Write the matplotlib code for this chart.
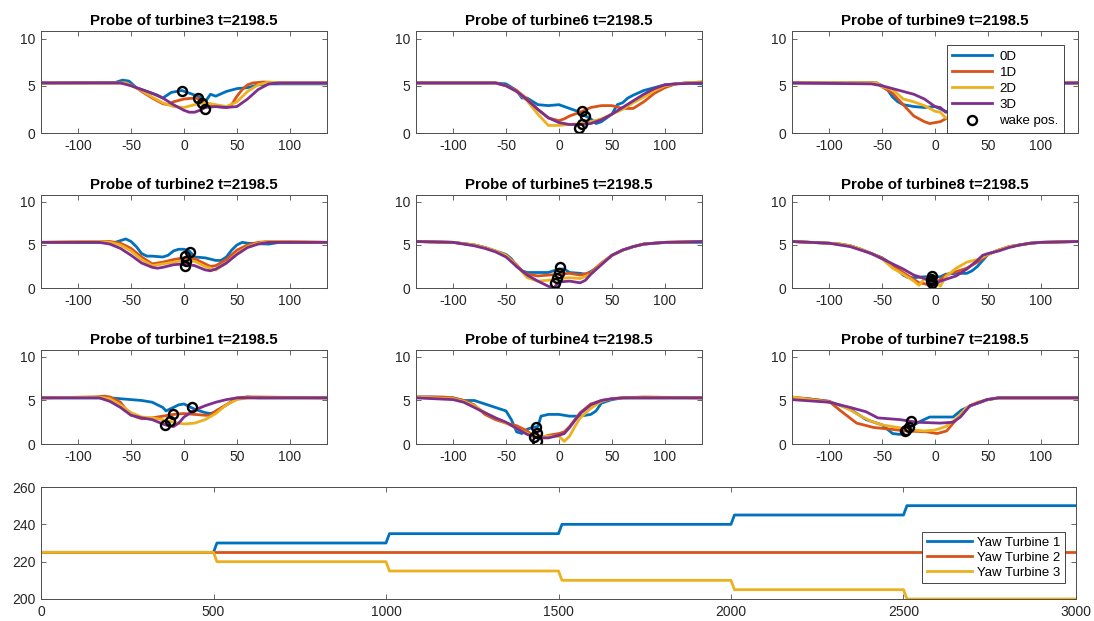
import numpy as np
import matplotlib.pyplot as plt

plt.rcParams['font.family'] = ['Liberation Sans', 'DejaVu Sans']
plt.rcParams['axes.unicode_minus'] = False

boje = ['#0072BD', '#D95319', '#EDB120', '#7E2F8E']
nazivi = ['0D', '1D', '2D', '3D']
vrijeme = 2198.5

# profil brzine (x, u) za svaku turbinu i udaljenost probe
probe3 = {
    '0D': [(-135, 5.3), (-65, 5.35), (-58, 5.6), (-52, 5.5), (-45, 4.8), (-35, 4.4), (-25, 4.0), (-20, 3.7), (-12, 4.3), (-2, 4.5), (8, 4.1), (15, 3.8), (20, 3.3), (25, 4.1), (30, 3.9), (40, 4.4), (50, 4.7), (60, 4.8), (70, 5.1), (80, 5.2), (135, 5.2)],
    '1D': [(-135, 5.3), (-55, 5.3), (-45, 4.8), (-40, 4.4), (-30, 3.7), (-20, 3.1), (-15, 3.0), (-10, 3.3), (0, 3.6), (10, 3.7), (15, 3.6), (20, 3.2), (30, 2.8), (40, 2.7), (45, 3.0), (50, 3.9), (55, 4.6), (60, 5.1), (65, 5.3), (75, 5.4), (90, 5.3), (135, 5.3)],
    '2D': [(-135, 5.3), (-55, 5.3), (-40, 4.5), (-30, 3.8), (-20, 3.2), (-10, 2.8), (0, 2.7), (10, 3.0), (20, 3.2), (30, 3.0), (40, 2.8), (50, 3.3), (60, 4.4), (70, 5.1), (80, 5.4), (90, 5.3), (135, 5.3)],
    '3D': [(-135, 5.3), (-60, 5.3), (-50, 5.0), (-40, 4.6), (-30, 4.2), (-20, 3.7), (-10, 3.0), (0, 2.4), (5, 2.2), (10, 2.2), (15, 2.4), (20, 2.7), (30, 2.8), (40, 2.7), (50, 2.8), (60, 3.6), (70, 4.6), (80, 5.2), (90, 5.3), (135, 5.3)],
}
wake3 = [(-2, 4.5), (13, 3.7), (17, 3.2), (20, 2.5)]

probe6 = {
    '0D': [(-135, 5.3), (-60, 5.3), (-50, 5.2), (-40, 4.5), (-35, 3.7), (-30, 3.7), (-20, 3.0), (-10, 2.9), (0, 3.0), (10, 2.6), (20, 2.2), (25, 1.8), (30, 1.5), (35, 1.0), (40, 1.2), (50, 2.0), (55, 3.0), (60, 3.2), (65, 3.7), (70, 4.0), (80, 4.5), (90, 4.8), (100, 5.1), (110, 5.2), (120, 5.3), (135, 5.2)],
    '1D': [(-135, 5.3), (-60, 5.3), (-50, 5.0), (-40, 4.5), (-30, 3.6), (-20, 2.5), (-10, 1.6), (0, 1.3), (5, 1.5), (10, 1.8), (20, 2.2), (30, 2.7), (40, 2.9), (50, 2.9), (60, 2.6), (70, 2.6), (80, 3.3), (90, 4.2), (100, 4.8), (110, 5.2), (120, 5.3), (135, 5.4)],
    '2D': [(-135, 5.3), (-60, 5.3), (-50, 5.0), (-40, 4.4), (-30, 3.4), (-20, 2.0), (-10, 0.8), (0, 0.8), (10, 0.9), (20, 1.0), (30, 1.2), (40, 1.5), (50, 2.0), (60, 2.5), (70, 3.2), (80, 3.8), (90, 4.5), (100, 5.0), (110, 5.2), (135, 5.4)],
    '3D': [(-135, 5.3), (-60, 5.3), (-50, 5.0), (-40, 4.4), (-30, 3.5), (-20, 2.5), (-10, 1.6), (0, 1.1), (10, 0.9), (20, 0.9), (30, 1.0), (40, 1.4), (50, 2.0), (60, 2.7), (70, 3.4), (80, 4.1), (90, 4.7), (100, 5.1), (110, 5.2), (135, 5.3)],
}
wake6 = [(22, 2.3), (25, 1.8), (19, 0.5), (22, 1.0)]

probe9 = {
    '0D': [(-135, 5.3), (-55, 5.3), (-50, 5.0), (-45, 4.6), (-40, 3.8), (-35, 3.3), (-30, 3.0), (-20, 2.8), (-10, 2.7), (0, 2.8), (10, 2.3), (20, 2.0), (30, 2.5), (40, 3.5), (50, 4.3), (60, 4.9), (70, 5.2), (80, 5.3), (135, 5.3)],
    '1D': [(-135, 5.3), (-55, 5.3), (-50, 4.9), (-40, 4.2), (-30, 3.0), (-20, 1.8), (-10, 1.2), (-5, 1.0), (0, 1.1), (5, 1.2), (10, 1.5), (20, 2.0), (30, 2.8), (40, 3.6), (50, 4.4), (60, 5.0), (70, 5.3), (135, 5.3)],
    '2D': [(-135, 5.3), (-55, 5.3), (-50, 4.9), (-40, 4.6), (-30, 3.6), (-20, 3.3), (-10, 2.9), (0, 2.3), (5, 2.2), (10, 1.6), (20, 1.8), (30, 2.6), (40, 3.5), (50, 4.3), (60, 4.9), (70, 5.3), (135, 5.3)],
    '3D': [(-135, 5.3), (-60, 5.2), (-50, 5.0), (-40, 4.7), (-30, 4.4), (-20, 4.1), (-10, 3.6), (0, 2.8), (5, 2.7), (10, 2.2), (20, 2.2), (30, 2.8), (40, 3.6), (50, 4.3), (60, 4.9), (70, 5.2), (135, 5.3)],
}
wake9 = [(22, 2.0), (20, 1.4), (22, 1.7), (24, 2.2)]

probe2 = {
    '0D': [(-135, 5.3), (-65, 5.3), (-60, 5.5), (-55, 5.7), (-50, 5.4), (-45, 4.8), (-40, 4.0), (-35, 3.7), (-30, 3.7), (-20, 3.6), (-15, 3.8), (-10, 4.3), (-5, 4.5), (0, 4.5), (5, 4.3), (10, 3.6), (20, 3.5), (30, 3.2), (35, 3.2), (40, 3.6), (45, 4.4), (50, 5.0), (55, 5.3), (60, 5.2), (80, 5.1), (90, 5.3), (135, 5.3)],
    '1D': [(-135, 5.3), (-85, 5.4), (-70, 5.4), (-60, 5.2), (-50, 4.6), (-40, 3.6), (-30, 2.8), (-20, 3.0), (-10, 3.3), (0, 3.5), (10, 3.4), (20, 2.8), (25, 2.5), (30, 2.6), (40, 3.3), (50, 4.4), (60, 5.0), (70, 5.3), (80, 5.4), (95, 5.4), (135, 5.3)],
    '2D': [(-135, 5.3), (-80, 5.4), (-70, 5.3), (-60, 5.0), (-50, 4.3), (-40, 3.3), (-30, 2.6), (-20, 2.8), (-10, 3.0), (0, 3.2), (10, 3.1), (20, 2.5), (30, 2.1), (40, 2.9), (50, 4.0), (60, 4.8), (70, 5.2), (80, 5.4), (135, 5.3)],
    '3D': [(-135, 5.3), (-80, 5.3), (-70, 5.1), (-60, 4.6), (-50, 3.8), (-40, 2.9), (-30, 2.4), (-25, 2.3), (-20, 2.4), (-10, 2.7), (0, 2.8), (10, 2.6), (20, 2.1), (25, 2.0), (30, 2.2), (40, 2.9), (50, 3.9), (60, 4.7), (70, 5.1), (80, 5.3), (135, 5.3)],
}
wake2 = [(6, 4.2), (1, 3.7), (2, 3.1), (1, 2.6)]

probe5 = {
    '0D': [(-135, 5.4), (-100, 5.3), (-80, 5.0), (-70, 4.7), (-60, 4.3), (-50, 3.9), (-45, 3.4), (-40, 2.5), (-35, 2.0), (-30, 1.8), (-20, 1.8), (-10, 1.8), (-5, 2.0), (0, 2.2), (5, 2.2), (10, 1.8), (20, 1.7), (25, 1.6), (30, 1.9), (35, 2.3), (40, 2.8), (50, 3.8), (60, 4.4), (70, 4.8), (80, 5.1), (100, 5.3), (135, 5.3)],
    '1D': [(-135, 5.4), (-100, 5.3), (-80, 5.0), (-70, 4.7), (-60, 4.3), (-50, 3.8), (-40, 2.7), (-35, 2.0), (-30, 1.6), (-20, 1.4), (-10, 1.5), (0, 1.6), (10, 1.7), (20, 1.5), (30, 1.8), (40, 2.9), (50, 3.8), (60, 4.4), (70, 4.8), (80, 5.1), (100, 5.3), (135, 5.4)],
    '2D': [(-135, 5.4), (-100, 5.3), (-80, 5.0), (-70, 4.7), (-60, 4.3), (-50, 3.8), (-40, 2.6), (-30, 1.2), (-20, 0.8), (-10, 0.9), (0, 1.1), (10, 1.2), (20, 1.1), (30, 1.6), (40, 2.8), (50, 3.8), (60, 4.4), (70, 4.8), (80, 5.1), (100, 5.3), (135, 5.4)],
    '3D': [(-135, 5.4), (-100, 5.3), (-80, 4.9), (-70, 4.6), (-60, 4.2), (-50, 3.6), (-40, 2.5), (-30, 1.5), (-20, 0.8), (-10, 0.2), (-5, 0.0), (0, 0.7), (10, 0.8), (20, 0.6), (25, 0.9), (30, 1.6), (40, 2.7), (50, 3.8), (60, 4.4), (70, 4.8), (80, 5.1), (100, 5.3), (135, 5.4)],
}
wake5 = [(1, 2.4), (0, 1.8), (-2, 1.2), (-4, 0.6)]

probe8 = {
    '0D': [(-135, 5.4), (-100, 5.2), (-90, 5.1), (-80, 4.9), (-70, 4.5), (-60, 4.0), (-50, 3.5), (-40, 2.7), (-30, 1.5), (-25, 1.2), (-20, 1.2), (-10, 1.3), (0, 1.3), (5, 1.3), (10, 1.6), (20, 1.7), (30, 1.7), (35, 2.0), (40, 2.5), (50, 3.9), (60, 4.4), (70, 4.8), (80, 5.0), (90, 5.2), (100, 5.3), (135, 5.4)],
    '1D': [(-135, 5.4), (-100, 5.2), (-90, 5.1), (-80, 4.9), (-70, 4.5), (-60, 4.0), (-50, 3.5), (-40, 2.6), (-30, 1.8), (-20, 1.0), (-15, 0.6), (-10, 0.5), (-5, 0.3), (0, 0.5), (5, 1.0), (10, 1.5), (20, 1.9), (30, 2.3), (40, 3.0), (50, 3.9), (60, 4.4), (70, 4.8), (80, 5.0), (90, 5.2), (100, 5.3), (135, 5.4)],
    '2D': [(-135, 5.4), (-100, 5.2), (-90, 5.1), (-80, 4.9), (-70, 4.5), (-60, 4.0), (-50, 3.4), (-40, 2.3), (-30, 1.6), (-20, 0.8), (-15, 0.3), (-10, 1.1), (-5, 1.0), (0, 0.7), (5, 0.2), (10, 1.3), (20, 2.3), (30, 3.0), (40, 3.3), (50, 3.9), (60, 4.4), (70, 4.8), (80, 5.0), (90, 5.2), (100, 5.3), (135, 5.4)],
    '3D': [(-135, 5.4), (-100, 5.2), (-90, 5.0), (-80, 4.8), (-70, 4.4), (-60, 4.0), (-50, 3.4), (-40, 2.8), (-30, 2.2), (-20, 1.5), (-10, 1.1), (-5, 0.8), (0, 0.4), (5, 0.8), (10, 1.0), (20, 1.4), (30, 2.2), (40, 3.2), (45, 3.8), (50, 4.0), (60, 4.3), (70, 4.7), (80, 5.0), (90, 5.2), (100, 5.3), (135, 5.4)],
}
wake8 = [(-3, 1.4), (-4, 1.0), (-4, 0.8), (-3, 0.6)]

probe1 = {
    '0D': [(-135, 5.3), (-70, 5.3), (-60, 5.2), (-50, 5.1), (-40, 5.0), (-30, 4.8), (-25, 4.5), (-20, 4.2), (-17, 3.8), (-10, 4.2), (-5, 4.5), (0, 4.6), (5, 4.3), (10, 4.0), (15, 3.8), (20, 3.6), (25, 3.5), (30, 3.7), (40, 4.5), (50, 5.2), (60, 5.4), (70, 5.3), (135, 5.3)],
    '1D': [(-135, 5.3), (-85, 5.4), (-75, 5.5), (-70, 5.4), (-60, 4.8), (-55, 4.0), (-50, 3.4), (-45, 3.1), (-40, 2.9), (-30, 3.0), (-20, 3.2), (-10, 3.4), (0, 3.5), (10, 3.4), (20, 3.3), (25, 3.3), (30, 3.8), (40, 4.5), (50, 5.3), (60, 5.4), (70, 5.4), (135, 5.3)],
    '2D': [(-135, 5.3), (-80, 5.4), (-70, 5.2), (-60, 4.5), (-50, 3.6), (-40, 3.1), (-30, 3.0), (-20, 2.8), (-10, 2.5), (0, 2.3), (10, 2.4), (20, 2.8), (30, 3.5), (40, 4.5), (50, 5.1), (60, 5.3), (135, 5.3)],
    '3D': [(-135, 5.3), (-80, 5.3), (-70, 4.9), (-60, 4.2), (-50, 3.3), (-40, 3.0), (-30, 2.8), (-20, 2.3), (-15, 2.1), (-10, 2.0), (-5, 2.4), (0, 3.1), (10, 3.9), (20, 4.4), (30, 4.8), (40, 5.1), (50, 5.3), (135, 5.3)],
}
wake1 = [(8, 4.2), (-10, 3.4), (-13, 2.7), (-18, 2.2)]

probe4 = {
    '0D': [(-135, 5.4), (-120, 5.4), (-100, 5.3), (-90, 5.0), (-80, 5.0), (-70, 4.6), (-60, 4.2), (-50, 3.8), (-45, 2.8), (-40, 1.4), (-35, 1.2), (-30, 1.7), (-25, 1.9), (-20, 2.0), (-17, 3.2), (-10, 3.4), (0, 3.4), (10, 3.2), (20, 3.2), (30, 3.4), (35, 3.8), (40, 4.7), (50, 5.1), (60, 5.3), (135, 5.3)],
    '1D': [(-135, 5.4), (-110, 5.4), (-100, 5.3), (-90, 5.0), (-80, 4.5), (-70, 3.4), (-60, 2.8), (-50, 2.4), (-40, 2.1), (-30, 1.5), (-25, 1.0), (-20, 1.0), (-15, 0.8), (-10, 1.0), (-5, 1.1), (0, 1.2), (5, 1.4), (10, 2.0), (20, 3.6), (30, 4.6), (40, 5.0), (50, 5.2), (60, 5.3), (80, 5.4), (135, 5.3)],
    '2D': [(-135, 5.4), (-100, 5.2), (-90, 4.9), (-80, 4.4), (-70, 3.6), (-60, 3.0), (-50, 2.4), (-40, 1.8), (-30, 1.2), (-20, 0.8), (-10, 0.9), (0, 0.9), (5, 0.3), (10, 0.9), (15, 2.0), (20, 3.0), (30, 4.1), (40, 4.9), (50, 5.2), (60, 5.3), (135, 5.3)],
    '3D': [(-135, 5.3), (-100, 5.1), (-90, 4.8), (-80, 4.2), (-70, 3.6), (-60, 3.0), (-50, 2.5), (-40, 1.8), (-30, 1.1), (-20, 0.7), (-10, 0.7), (0, 1.0), (5, 1.2), (10, 1.9), (20, 3.5), (30, 4.5), (40, 5.0), (50, 5.2), (60, 5.3), (135, 5.3)],
}
wake4 = [(-22, 2.0), (-21, 1.3), (-24, 0.8), (-21, 0.3)]

probe7 = {
    '0D': [(-135, 5.3), (-120, 5.2), (-100, 4.9), (-80, 4.0), (-65, 2.8), (-50, 2.2), (-40, 1.2), (-33, 1.1), (-27, 1.7), (-14, 2.6), (-5, 3.1), (5, 3.1), (17, 3.1), (25, 3.9), (36, 4.5), (50, 5.1), (60, 5.3), (135, 5.3)],
    '1D': [(-135, 5.4), (-120, 5.2), (-100, 4.9), (-90, 3.9), (-74, 2.4), (-58, 1.9), (-42, 1.7), (-27, 1.5), (-8, 1.4), (2, 1.2), (11, 1.5), (20, 2.8), (33, 4.4), (49, 5.1), (60, 5.3), (135, 5.3)],
    '2D': [(-135, 5.4), (-100, 4.8), (-90, 4.5), (-80, 3.9), (-70, 3.2), (-60, 2.6), (-50, 2.2), (-40, 2.0), (-30, 1.8), (-20, 1.6), (-10, 1.5), (0, 1.6), (10, 2.0), (20, 2.9), (30, 4.2), (40, 4.8), (50, 5.1), (60, 5.3), (135, 5.3)],
    '3D': [(-135, 5.1), (-100, 4.8), (-80, 4.2), (-65, 3.7), (-54, 3.0), (-33, 2.8), (-17, 2.5), (5, 2.4), (17, 2.5), (24, 3.1), (33, 4.4), (49, 5.1), (60, 5.3), (135, 5.3)],
}
wake7 = [(-23, 2.6), (-25, 2.0), (-27, 1.6), (-28, 1.5)]

# zakret turbina u vremenu
yaw_t = [0, 500, 510, 1000, 1010, 1500, 1510, 2000, 2010, 2500, 2510, 3000]
yaw1 = [225, 225, 230, 230, 235, 235, 240, 240, 245, 245, 250, 250]
yaw2 = [225, 225, 225, 225, 225, 225, 225, 225, 225, 225, 225, 225]
yaw3 = [225, 225, 220, 220, 215, 215, 210, 210, 205, 205, 200, 200]

raspored = [(3, probe3, wake3), (6, probe6, wake6), (9, probe9, wake9),
            (2, probe2, wake2), (5, probe5, wake5), (8, probe8, wake8),
            (1, probe1, wake1), (4, probe4, wake4), (7, probe7, wake7)]

W, H = 1094, 621
fig = plt.figure(figsize=(W / 100, H / 100), dpi=100)

siva = '#262626'


def uredi_os(ax):
    for s in ax.spines.values():
        s.set_color('#4d4d4d')
        s.set_linewidth(0.7)
    ax.tick_params(direction='in', top=True, right=True, length=3.5, width=0.6,
                   color='#4d4d4d', labelcolor=siva, labelsize=10, pad=4)


lijevo = [41, 416, 792]
redovi = [(31, 133), (195, 288), (350, 444)]
sirina = 286

for i, (br, probe, wake) in enumerate(raspored):
    r, c = divmod(i, 3)
    gore, dolje = redovi[r]
    ax = fig.add_axes([lijevo[c] / W, 1 - dolje / H, sirina / W, (dolje - gore) / H])
    for k, naz in enumerate(nazivi):
        p = np.array(probe[naz])
        ax.plot(p[:, 0], p[:, 1], color=boje[k], lw=2.0, label=naz)
    w = np.array(wake)
    ax.plot(w[:, 0], w[:, 1], 'o', mfc='none', mec='k', ms=6.5, mew=1.7, ls='none',
            label='wake pos.')
    ax.set_xlim(-135, 135)
    ax.set_ylim(0, 10.8)
    ax.set_yticks([0, 5, 10])
    ax.set_xticks([-100, -50, 0, 50, 100])
    ax.set_title('Probe of turbine%d t=%.1f' % (br, vrijeme), fontsize=10.8,
                 fontweight='bold', pad=4)
    uredi_os(ax)
    if br == 9:
        leg = ax.legend(loc='upper right', bbox_to_anchor=(1064 / W, 1 - 45 / H),
                        bbox_transform=fig.transFigure, fontsize=9.5, frameon=True,
                        fancybox=False, framealpha=1, edgecolor='#262626',
                        handlelength=3.0, borderaxespad=0, labelspacing=0.3,
                        borderpad=0.4, handletextpad=0.6)
        leg.get_frame().set_linewidth(0.6)

ax = fig.add_axes([41 / W, 1 - 599 / H, 1035 / W, (599 - 487) / H])
ax.plot(yaw_t, yaw1, color=boje[0], lw=2.0, label='Yaw Turbine 1')
ax.plot(yaw_t, yaw2, color=boje[1], lw=2.0, label='Yaw Turbine 2')
ax.plot(yaw_t, yaw3, color=boje[2], lw=2.0, label='Yaw Turbine 3')
ax.set_xlim(0, 3000)
ax.set_ylim(200, 260)
ax.set_xticks(np.arange(0, 3001, 500))
ax.set_yticks([200, 220, 240, 260])
uredi_os(ax)
leg = ax.legend(loc='upper right', bbox_to_anchor=(1065 / W, 1 - 532 / H),
                bbox_transform=fig.transFigure, fontsize=9.5, frameon=True,
                fancybox=False, framealpha=1, edgecolor='#262626',
                handlelength=3.4, borderaxespad=0, labelspacing=0.2, borderpad=0.35,
                handletextpad=0.4)
leg.get_frame().set_linewidth(0.6)

fig.savefig('out.png', dpi=100)
